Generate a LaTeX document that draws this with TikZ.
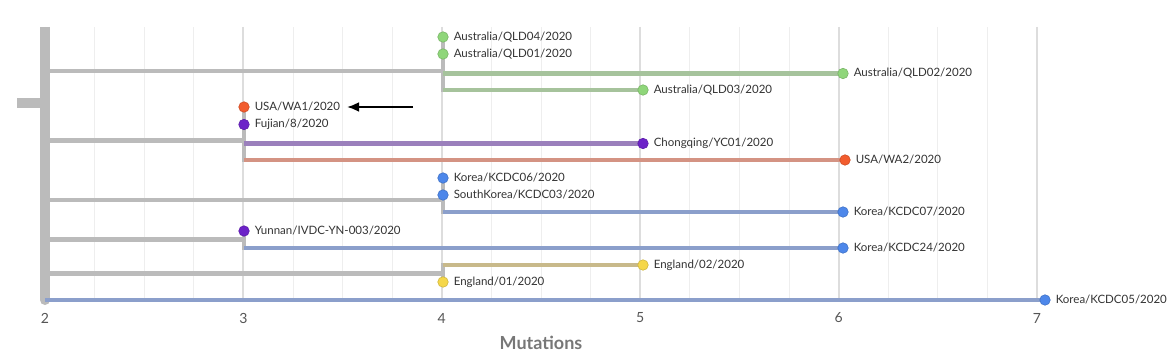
\documentclass[tikz,border=0pt]{standalone}
\usepackage{fontspec}
\setmainfont{Lato}
\usetikzlibrary{positioning,arrows.meta}

\definecolor{brgray}{HTML}{BBBBBB}
\definecolor{majgrid}{HTML}{DDDDDD}
\definecolor{mingrid}{HTML}{EEEEEE}
\definecolor{labtext}{HTML}{333333}
\definecolor{ticktext}{HTML}{555555}
\definecolor{axistext}{HTML}{777777}
\definecolor{brgreen}{HTML}{A6C39C}
\definecolor{dotgreen}{HTML}{8FD67A}
\definecolor{brpurple}{HTML}{9B80BC}
\definecolor{dotpurple}{HTML}{6C22C8}
\definecolor{brsalmon}{HTML}{D49383}
\definecolor{dotred}{HTML}{F25C2E}
\definecolor{brblue}{HTML}{8B9FCB}
\definecolor{dotblue}{HTML}{4D87EA}
\definecolor{brtan}{HTML}{C8B98A}
\definecolor{dotyellow}{HTML}{F5D74A}

\tikzset{
  branch/.style={line width=4.5pt, line cap=butt},
  vconn/.style={line width=4.5pt, line cap=rect, brgray},
  tipdot/.style={circle, inner sep=0pt, minimum size=10.5pt, fill=#1, draw=#1!85!black, line width=0.6pt},
  tiplab/.style={font=\fontsize{11.5}{13}\selectfont, text=labtext, inner sep=1pt},
  ticklab/.style={font=\fontsize{14}{16}\selectfont, text=ticktext},
  axislab/.style={font=\fontsize{18}{20}\selectfont\bfseries, text=axistext},
}

\begin{document}
\begin{tikzpicture}[x=1pt,y=-1pt]
    \useasboundingbox (0,0) rectangle (1169,358);

    % grid and axis
    \foreach \k in {0,...,20}
      \draw[mingrid, line width=1pt] ({45+49.6*\k},27) -- ({45+49.6*\k},300);
    \foreach \k/\m in {0/2,1/3,2/4,3/5,4/6,5/7}{
      \draw[majgrid, line width=2pt] ({45+198.4*\k},27) -- ({45+198.4*\k},300);
      \node[ticklab] (tick\m) at ({45+198.4*\k},318) {\m};
    }
    \node[axislab] (mutations) at (541,343) {Mutations};

    \coordinate (stub) at (17,103);
    \coordinate (root) at (45,103);
    \coordinate (rtop) at (45,27);
    \coordinate (rbot) at (45,300);

    % inner nodes
    \coordinate (ausin) at (443,71);
    \coordinate (chnin) at (244,140.7);
    \coordinate (korin) at (443,200);
    \coordinate (yunin) at (244,239.5);
    \coordinate (engin) at (443,273.5);

    % tips
    \coordinate (qld04) at (443,37);
    \coordinate (qld01) at (443,54);
    \coordinate (qld02s) at (443,73.5);
    \coordinate (qld02) at (843,73.5);
    \coordinate (qld03s) at (443,90);
    \coordinate (qld03) at (643,90);
    \coordinate (wa1) at (244,107);
    \coordinate (fuj) at (244,124.5);
    \coordinate (yc01s) at (244,143.5);
    \coordinate (yc01) at (643,143.5);
    \coordinate (wa2s) at (244,160);
    \coordinate (wa2) at (845,160);
    \coordinate (kcdc06) at (443,178);
    \coordinate (kcdc03) at (443,195);
    \coordinate (kcdc07s) at (443,212);
    \coordinate (kcdc07) at (843,212);
    \coordinate (yunnan) at (244,231);
    \coordinate (kcdc24s) at (244,248);
    \coordinate (kcdc24) at (843,248);
    \coordinate (eng02s) at (443,265);
    \coordinate (eng02) at (643,265);
    \coordinate (eng01) at (443,282);
    \coordinate (kcdc05) at (1045,300);

    % root
    \draw[brgray, line width=10pt] (stub) -- (root);
    \draw[brgray, line width=10pt] (rtop) -- (rbot);
    \fill[brgray] (rbot) circle (5);

    \draw[branch, brgray] (ausin -| root) -- (ausin);
    \draw[branch, brgray] (chnin -| root) -- (chnin);
    \draw[branch, brgray] (korin -| root) -- (korin);
    \draw[branch, brgray] (yunin -| root) -- (yunin);
    \draw[branch, brgray] (engin -| root) -- (engin);

    \draw[vconn] (qld04) -- (qld03s);
    \draw[vconn] (wa1) -- (wa2s);
    \draw[vconn] (kcdc06) -- (kcdc07s);
    \draw[vconn] (yunnan) -- (kcdc24s);
    \draw[vconn] (eng02s) -- (eng01);

    \draw[branch, brgreen] (qld02s) -- (qld02);
    \draw[branch, brgreen] (qld03s) -- (qld03);
    \draw[branch, brpurple] (yc01s) -- (yc01);
    \draw[branch, brsalmon] (wa2s) -- (wa2);
    \draw[branch, brblue] (kcdc07s) -- (kcdc07);
    \draw[branch, brblue] (kcdc24s) -- (kcdc24);
    \draw[branch, brtan] (eng02s) -- (eng02);
    \draw[branch, brblue] (rbot) -- (kcdc05);

    % tip dots and names
    \node[tipdot=dotgreen] (qld04dot) at (qld04) {};
    \node[tiplab, right=4pt of qld04dot] (qld04lab) {Australia/QLD04/2020};
    \node[tipdot=dotgreen] (qld01dot) at (qld01) {};
    \node[tiplab, right=4pt of qld01dot] (qld01lab) {Australia/QLD01/2020};
    \node[tipdot=dotgreen] (qld02dot) at (qld02) {};
    \node[tiplab, right=4pt of qld02dot] (qld02lab) {Australia/QLD02/2020};
    \node[tipdot=dotgreen] (qld03dot) at (qld03) {};
    \node[tiplab, right=4pt of qld03dot] (qld03lab) {Australia/QLD03/2020};
    \node[tipdot=dotred] (wa1dot) at (wa1) {};
    \node[tiplab, right=4pt of wa1dot] (wa1lab) {USA/WA1/2020};
    \node[tipdot=dotpurple] (fujdot) at (fuj) {};
    \node[tiplab, right=4pt of fujdot] (fujlab) {Fujian/8/2020};
    \node[tipdot=dotpurple] (yc01dot) at (yc01) {};
    \node[tiplab, right=4pt of yc01dot] (yc01lab) {Chongqing/YC01/2020};
    \node[tipdot=dotred] (wa2dot) at (wa2) {};
    \node[tiplab, right=4pt of wa2dot] (wa2lab) {USA/WA2/2020};
    \node[tipdot=dotblue] (kcdc06dot) at (kcdc06) {};
    \node[tiplab, right=4pt of kcdc06dot] (kcdc06lab) {Korea/KCDC06/2020};
    \node[tipdot=dotblue] (kcdc03dot) at (kcdc03) {};
    \node[tiplab, right=4pt of kcdc03dot] (kcdc03lab) {SouthKorea/KCDC03/2020};
    \node[tipdot=dotblue] (kcdc07dot) at (kcdc07) {};
    \node[tiplab, right=4pt of kcdc07dot] (kcdc07lab) {Korea/KCDC07/2020};
    \node[tipdot=dotpurple] (yunnandot) at (yunnan) {};
    \node[tiplab, right=4pt of yunnandot] (yunnanlab) {Yunnan/IVDC-YN-003/2020};
    \node[tipdot=dotblue] (kcdc24dot) at (kcdc24) {};
    \node[tiplab, right=4pt of kcdc24dot] (kcdc24lab) {Korea/KCDC24/2020};
    \node[tipdot=dotyellow] (eng02dot) at (eng02) {};
    \node[tiplab, right=4pt of eng02dot] (eng02lab) {England/02/2020};
    \node[tipdot=dotyellow] (eng01dot) at (eng01) {};
    \node[tiplab, right=4pt of eng01dot] (eng01lab) {England/01/2020};
    \node[tipdot=dotblue] (kcdc05dot) at (kcdc05) {};
    \node[tiplab, right=4pt of kcdc05dot] (kcdc05lab) {Korea/KCDC05/2020};

    % pointer
    \coordinate (arrtail) at (413,107);
    \coordinate (arrhead) at (347,107);
    \draw[-{Latex[length=12pt,width=10pt]}, line width=2.3pt] (arrtail) -- (arrhead);
\end{tikzpicture}
\end{document}
